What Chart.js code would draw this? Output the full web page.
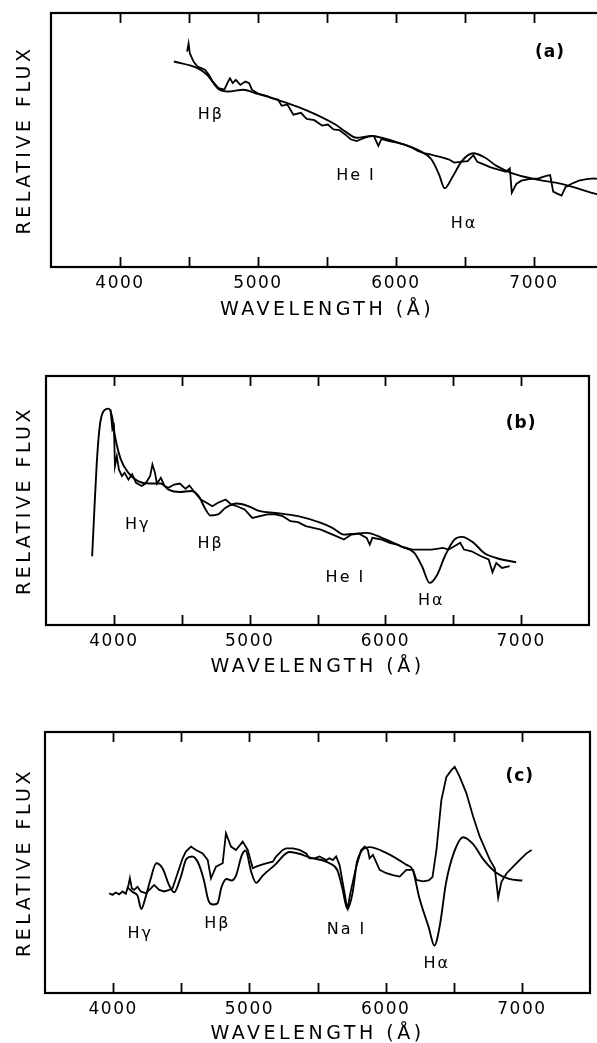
<!DOCTYPE html>
<html><head><meta charset="utf-8">
<script src="https://cdn.jsdelivr.net/npm/chart.js@4"></script>
<style>
html,body{margin:0;padding:0;background:#fff;overflow:hidden;width:597px;height:1043px;position:relative;}
.panel{position:absolute;left:0;}
canvas{display:block;}
</style></head><body>
<div class="panel" style="top:0px"><canvas id="ca" width="640" height="330"></canvas></div>
<div class="panel" style="top:360px"><canvas id="cb" width="597" height="330"></canvas></div>
<div class="panel" style="top:715px"><canvas id="cc" width="597" height="340"></canvas></div>
<script>
// ---------- data (wavelength in Å, relative flux 0-100) ----------
const tickLabels = [4000, 5000, 6000, 7000];

// Panel (a)
const aObsX = [4486,4497,4506,4533,4561,4589,4617,4644,4672,4714,4756,4783,4797,4817,4839,4872,4908,4936,4956,5006,5061,5103,5144,5172,5214,5256,5311,5353,5408,5464,5506,5547,5589,5631,5672,5714,5756,5797,5839,5872,5894,5950,6006,6061,6117,6158,6200,6242,6283,6339,6381,6422,6464,6519,6561,6589,6631,6686,6742,6797,6825,6839,6872,6908,6964,7033,7089,7117,7139,7172,7200,7228,7269,7325,7381,7436,7472,7520];
const aObsY = [84.8,88.0,84.1,80.9,78.9,78.3,77.6,75.7,73.0,70.4,69.8,73.0,74.3,72.4,73.7,71.7,73.0,72.4,69.8,68.1,67.4,66.5,65.9,63.5,63.9,60.0,60.7,58.3,57.8,55.7,56.1,54.2,53.9,52.2,50.3,49.6,50.5,51.3,51.6,47.7,50.3,49.6,49.0,48.2,47.0,45.7,44.8,44.4,43.8,43.1,42.4,41.1,41.4,41.7,44.0,41.4,40.5,39.2,38.3,37.5,38.8,29.2,32.7,34.0,34.6,34.9,35.9,36.2,29.7,28.8,28.1,31.4,32.7,34.0,34.6,34.9,34.6,35.0];
const aModX = [4390,4561,4631,4714,4783,4894,4978,5061,5339,5561,5644,5714,5825,5894,6033,6172,6256,6311,6353,6408,6478,6561,6644,6728,6839,7006,7200,7472,7550];
const aModY = [80.9,78.3,75.7,70.1,69.1,69.8,68.5,67.2,62.0,56.1,52.9,50.9,51.6,50.9,48.7,45.7,42.4,36.6,31.0,35.3,41.8,44.8,43.1,39.8,37.0,34.6,32.7,28.4,27.5];
const aNotes = ['Hβ','He I','Hα','(a)'];
const aNoteX = [4659,5710,6493,7116];
const aNoteY = [59.8,35.8,16.9,84.3];

// Panel (b)
const bObsX = [3975,3989,4000,4008,4022,4037,4059,4079,4107,4135,4163,4205,4233,4267,4284,4303,4317,4346,4374,4402,4444,4486,4528,4556,4598,4640,4683,4725,4767,4823,4865,4907,4963,5020,5076,5132,5188,5244,5301,5357,5413,5469,5525,5581,5638,5694,5750,5806,5862,5885,5904,5975,6031,6087,6143,6199,6256,6340,6424,6466,6508,6551,6579,6635,6705,6761,6789,6817,6859,6916];
const bObsY = [86.6,78.6,79.9,63.8,67.8,62.5,59.8,61.1,58.4,60.5,57.1,55.8,56.8,59.8,64.5,61.1,56.8,59.1,55.8,55.1,56.4,56.8,54.7,56.0,53.1,50.4,49.1,47.7,49.1,50.4,48.4,47.7,46.4,43.0,43.7,44.4,44.4,43.7,41.7,41.3,39.7,39.0,38.3,37.0,35.7,34.3,36.3,36.7,35.0,32.3,35.0,34.3,33.0,32.3,31.0,30.3,30.3,30.3,31.0,30.3,31.6,33.0,30.3,29.6,27.6,26.3,21.2,24.9,22.9,23.6];
const bModX = [3840,3854,3874,3896,3924,3961,3986,4008,4051,4107,4177,4261,4346,4402,4486,4570,4626,4669,4711,4767,4823,4907,4992,5076,5188,5357,5525,5610,5694,5778,5862,5975,6115,6213,6270,6326,6382,6438,6508,6565,6649,6733,6817,6963];
const bModY = [27.6,43.7,65.1,79.9,85.9,86.9,83.9,75.9,66.5,61.1,57.8,56.8,56.8,54.4,53.4,53.8,51.7,47.1,44.0,44.4,47.1,48.8,47.7,45.7,45.0,43.7,41.0,39.0,36.3,36.7,37.0,35.0,31.6,29.0,23.6,16.9,20.2,27.6,34.3,35.4,33.0,28.7,26.9,25.2];
const bNotes = ['(b)','Hγ','Hβ','He I','Hα'];
const bNoteX = [7000,4176,4713,5706,6338];
const bNoteY = [80.7,40.4,32.5,18.9,9.6];

// Panel (c)
const cObsX = [3971,3995,4020,4044,4069,4093,4113,4123,4137,4154,4179,4203,4240,4277,4301,4338,4375,4412,4436,4473,4510,4534,4571,4608,4657,4694,4718,4755,4804,4828,4865,4902,4951,4988,5025,5049,5086,5123,5172,5196,5245,5270,5319,5368,5417,5441,5478,5515,5539,5564,5588,5613,5637,5662,5686,5711,5722,5740,5784,5821,5846,5870,5882,5907,5956,6005,6054,6103,6152,6201,6226,6274,6316,6344,6373,6409,6446,6483,6507,6544,6593,6642,6691,6765,6801,6826,6850,6887,6936,6985,7034,7071];
const cObsY = [38.2,37.6,38.5,37.8,38.9,38.0,41.5,44.0,40.1,39.5,40.7,38.9,38.2,40.1,41.4,39.5,38.9,39.5,40.1,45.9,51.6,54.2,56.1,54.8,53.5,51.0,43.9,48.4,49.7,61.2,56.1,54.8,58.0,54.8,47.8,48.4,49.1,49.7,50.3,52.3,54.8,55.4,55.4,54.8,53.5,51.6,51.6,52.3,51.6,50.9,51.6,50.9,52.3,49.0,42.0,34.5,32.5,38.0,48.4,54.8,56.1,54.8,51.6,52.9,47.2,45.9,45.2,44.6,47.2,47.2,43.3,42.8,43.1,44.4,54.8,73.9,82.8,85.4,86.7,82.8,76.5,67.6,59.9,51.0,47.8,36.5,42.6,45.8,48.4,51.0,53.5,54.8];
const cModX = [4104,4146,4179,4207,4235,4272,4317,4364,4412,4448,4496,4538,4580,4622,4664,4700,4734,4767,4795,4832,4868,4902,4944,4972,5014,5050,5098,5182,5294,5462,5588,5647,5681,5720,5756,5793,5882,6008,6154,6199,6246,6316,6358,6400,6442,6498,6569,6639,6723,6807,6905,7003];
const cModY = [40.5,38.6,37.3,32.2,36.1,43.1,49.7,47.6,41.2,38.6,44.4,51.4,52.3,50.1,43.7,35.4,33.9,34.4,40.5,43.7,43.1,45.0,52.7,54.6,46.3,42.2,45.0,48.8,54.0,51.7,49.7,46.9,40.5,32.2,38.0,50.9,55.9,53.6,49.1,47.2,36.7,25.2,18.2,26.5,41.8,53.3,59.7,57.2,50.8,46.3,43.7,43.1];
const cNotes = ['(c)','Hγ','Hβ','Na I','Hα'];
const cNoteX = [6985,4199,4765,5713,6375];
const cNoteY = [83.1,22.6,26.4,24.1,11.1];

// ---------- helpers ----------
const FONT = '"DejaVu Sans", sans-serif';
const pts = (xs, ys) => xs.map((x, i) => ({x, y: ys[i]}));

const framePlugin = {
  id: 'frame',
  beforeDraw(chart) { chart.ctx.letterSpacing = '3.5px'; },
  afterDatasetsDraw(chart) { chart.ctx.letterSpacing = '1.5px'; },
  afterDraw(chart, args, opts) {
    const {ctx, chartArea: a} = chart;
    const x = chart.scales.x, y = chart.scales.y;
    ctx.save();
    ctx.strokeStyle = '#000';
    ctx.lineWidth = 2.2;
    ctx.strokeRect(a.left, a.top, a.right - a.left, a.bottom - a.top);
    ctx.lineWidth = 1.8;
    for (const t of x.ticks) {
      if (t.value <= x.min || t.value >= x.max) continue;
      const px = Math.round(x.getPixelForValue(t.value)) + 0.5;
      ctx.beginPath();
      ctx.moveTo(px, a.bottom); ctx.lineTo(px, a.bottom - 10);
      ctx.moveTo(px, a.top); ctx.lineTo(px, a.top + 10);
      ctx.stroke();
    }
    ctx.fillStyle = '#000';
    ctx.textAlign = 'center';
    ctx.textBaseline = 'middle';
    (opts.labels || []).forEach((txt, i) => {
      const isPanel = txt.startsWith('(');
      ctx.letterSpacing = isPanel ? '1px' : '2px';
      ctx.font = (isPanel ? 'bold 17px ' : '16px ') + FONT;
      ctx.fillText(txt, x.getPixelForValue(opts.xs[i]), y.getPixelForValue(opts.ys[i]));
    });
    ctx.restore();
  }
};

function makePanel(id, obs, mod, notes, geo) {
  new Chart(document.getElementById(id), {
    type: 'line',
    data: {
      datasets: [
        {data: obs, borderColor: '#000', borderWidth: 1.8, pointRadius: 0, tension: 0, fill: false},
        {data: mod, borderColor: '#000', borderWidth: 1.9, pointRadius: 0, cubicInterpolationMode: 'monotone', fill: false}
      ]
    },
    options: {
      responsive: false,
      animation: false,
      devicePixelRatio: 1,
      parsing: false,
      layout: {padding: {left: 0, top: geo.top, right: geo.right, bottom: 0}},
      plugins: {
        legend: {display: false},
        tooltip: {enabled: false},
        frame: notes
      },
      scales: {
        x: {
          type: 'linear', min: 3500, max: 7500,
          grid: {display: false, drawTicks: false},
          border: {display: false},
          afterFit(s) { s.height = geo.xh; },
          ticks: {
            stepSize: 500, autoSkip: false, maxRotation: 0, minRotation: 0,
            padding: 6, z: 1, color: '#000',
            font: {family: FONT, size: 17},
            callback: v => tickLabels.includes(v) ? String(v) : ''
          },
          title: {display: true, text: 'WAVELENGTH (Å)', color: '#000',
                  font: {family: FONT, size: 19}, padding: {top: 0, bottom: geo.tpad}}
        },
        y: {
          min: 0, max: 100,
          grid: {display: false, drawTicks: false},
          border: {display: false},
          ticks: {display: false},
          afterFit(s) { s.width = geo.yw; },
          title: {display: true, text: 'RELATIVE FLUX', color: '#000',
                  font: {family: FONT, size: 19}, padding: {top: 13.6, bottom: 0}}
        }
      }
    },
    plugins: [framePlugin]
  });
}

makePanel('ca', pts(aObsX, aObsY), pts(aModX, aModY), {labels: aNotes, xs: aNoteX, ys: aNoteY},
  {top: 13, right: 37, xh: 63, yw: 51, tpad: 8.6});
makePanel('cb', pts(bObsX, bObsY), pts(bModX, bModY), {labels: bNotes, xs: bNoteX, ys: bNoteY},
  {top: 16, right: 8, xh: 65, yw: 46, tpad: 11.6});
makePanel('cc', pts(cObsX, cObsY), pts(cModX, cModY), {labels: cNotes, xs: cNoteX, ys: cNoteY},
  {top: 17, right: 7, xh: 62, yw: 45, tpad: 9.6});
</script>
</body></html>
